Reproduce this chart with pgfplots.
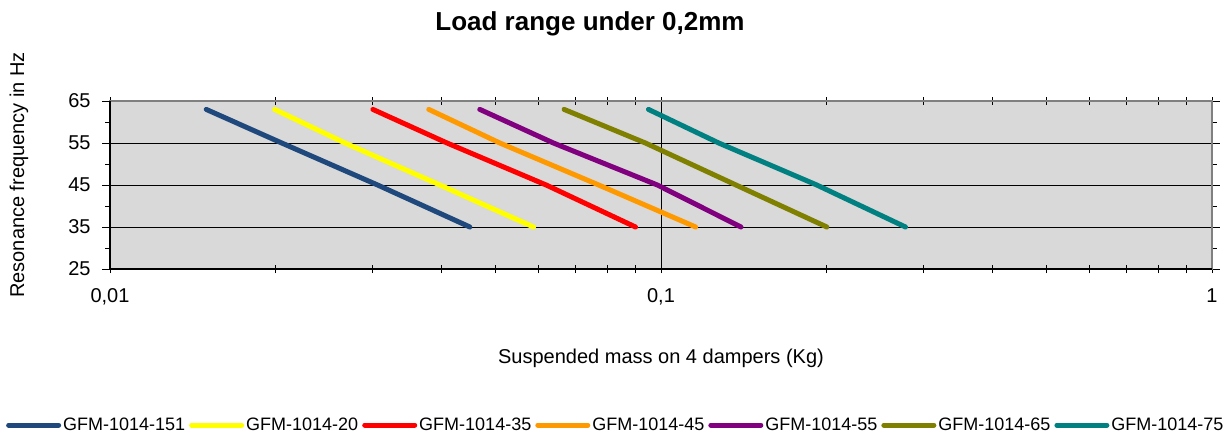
\documentclass[border=0pt]{standalone}
\usepackage{fontspec}
\setmainfont{Liberation Sans}
\usepackage{pgfplots}
\pgfplotsset{compat=1.18}
\definecolor{c1}{HTML}{1F497D}
\definecolor{c2}{HTML}{FFFF00}
\definecolor{c3}{HTML}{FF0000}
\definecolor{c4}{HTML}{FF9900}
\definecolor{c5}{HTML}{800080}
\definecolor{c6}{HTML}{808000}
\definecolor{c7}{HTML}{008080}
\definecolor{bg}{HTML}{D9D9D9}
\begin{document}
\begin{tikzpicture}
\useasboundingbox (-110pt,-165pt) rectangle (1122pt,269pt);
\begin{axis}[
  scale only axis, width=1102pt, height=168pt,
  at={(0,0)}, anchor=south west,
  xmode=log, xmin=0.01, xmax=1, ymin=25, ymax=65,
  log basis x=10,
  xtick={0.01,0.1,1}, xticklabels={{0,01},{0,1},{1}},
  minor xtick={0.02,0.03,0.04,0.05,0.06,0.07,0.08,0.09,0.2,0.3,0.4,0.5,0.6,0.7,0.8,0.9},
  ytick={25,35,45,55,65}, yticklabels={25,35,45,55,65},
  minor ytick={30,40,50,60},
  xmajorgrids, ymajorgrids,
  major grid style={black, line width=0.9pt},
  axis background/.style={fill=bg},
  axis line style={draw=gray, line width=1.5pt},
  tick style={black, line width=0.9pt},
  xtick align=center, ytick align=outside,
  major tick length=8pt, minor tick length=8pt,
  minor y tick style={/pgfplots/minor tick length=5pt},
  tick label style={font=\fontsize{20}{24}\selectfont},
  xticklabel style={yshift=-12pt},
  yticklabel style={xshift=-8pt},
  title={\textbf{Load range under 0,2mm}},
  title style={font=\fontsize{26}{30}\selectfont, at={(axis description cs:0.4356,1.425)}, anchor=center},
  xlabel={Suspended mass on 4 dampers (Kg)},
  xlabel style={font=\fontsize{20}{24}\selectfont, at={(axis description cs:0.5,-0.53)}, anchor=center},
  ylabel={Resonance frequency in Hz},
  ylabel style={font=\fontsize{20}{24}\selectfont, at={(axis description cs:-0.0825,0.56)}, anchor=center},
  clip=false,
  legend columns=-1,
  legend style={at={(axis description cs:0.459,-0.929)}, anchor=center, draw=none, fill=none,
    font=\fontsize{18}{21}\selectfont, inner sep=0pt,
    nodes={inner sep=2pt},
    /tikz/every even column/.append style={column sep=2pt}},
  legend image code/.code={\draw[#1, line width=5pt, line cap=round] (2pt,0pt) -- (52pt,0pt);},
  every axis plot/.append style={line width=5pt, line cap=round, line join=round},
]
\addplot[c1] coordinates {(0.01495,63) (0.0205,55) (0.0306,45) (0.0450,35)};
\addlegendentry{GFM-1014-151}
\addplot[c2] coordinates {(0.0199,63) (0.0267,55) (0.0397,45) (0.0587,35)};
\addlegendentry{GFM-1014-20}
\addplot[c3] coordinates {(0.0300,63) (0.0409,55) (0.0619,45) (0.0899,35)};
\addlegendentry{GFM-1014-35}
\addplot[c4] coordinates {(0.0379,63) (0.0510,55) (0.0771,45) (0.1156,35)};
\addlegendentry{GFM-1014-45}
\addplot[c5] coordinates {(0.0469,63) (0.0638,55) (0.0985,45) (0.1397,35)};
\addlegendentry{GFM-1014-55}
\addplot[c6] coordinates {(0.0667,63) (0.0937,55) (0.1368,45) (0.2,35)};
\addlegendentry{GFM-1014-65}
\addplot[c7] coordinates {(0.0949,63) (0.1273,55) (0.1918,45) (0.2778,35)};
\addlegendentry{GFM-1014-75}
\draw[black, line width=1.3pt] (rel axis cs:0,1) -- (rel axis cs:0,0) -- (rel axis cs:1,0);
\end{axis}
\end{tikzpicture}
\end{document}
